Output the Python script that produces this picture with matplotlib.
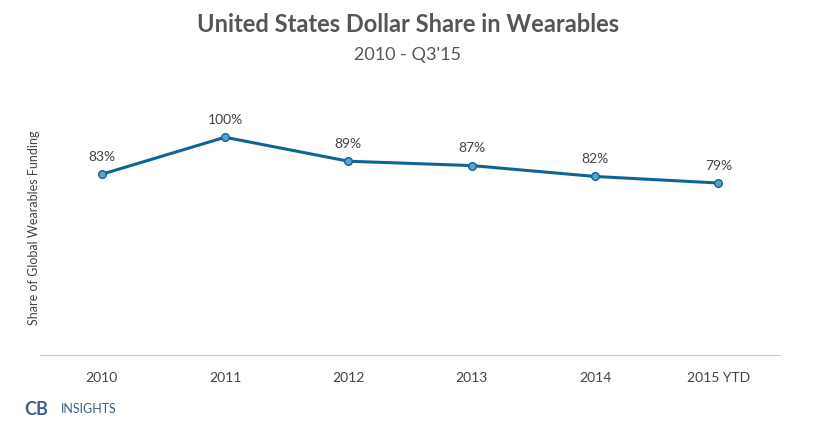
import matplotlib
matplotlib.use("Agg")
import matplotlib.pyplot as plt
import numpy as np

plt.rcParams["font.family"] = "Lato"

YEARS = ["2010", "2011", "2012", "2013", "2014", "2015 YTD"]
SHARE = [83, 100, 89, 87, 82, 79]
LINE_COLOR = "#0f6496"

fig = plt.figure(figsize=(8.16, 4.32), dpi=100)
ax = fig.add_axes([0.049, 0.178, 0.907, 0.59])

x = np.arange(len(YEARS))
ax.plot(x, SHARE, color=LINE_COLOR, lw=2.2, marker="o", ms=5.5,
        mfc="#5d9fd0", mec=LINE_COLOR, mew=1)
for xi, v in zip(x, SHARE):
    ax.annotate(f"{v}%", (xi, v), xytext=(0, 8), textcoords="offset points",
                ha="center", va="bottom", fontsize=10, color="#444444")

ax.set_xlim(-0.5, len(YEARS) - 0.5)
ax.set_ylim(0, 117)
ax.set_xticks(x)
ax.set_xticklabels(YEARS, fontsize=10, color="#444444")
ax.set_yticks([])
ax.tick_params(axis="x", length=0, pad=12)
for s in ["top", "right", "left"]:
    ax.spines[s].set_visible(False)
ax.spines["bottom"].set_color("#cccccc")
ax.set_ylabel("Share of Global Wearables Funding", fontsize=9, color="#444444", labelpad=0)

fig.text(0.5, 0.925, "United States Dollar Share in Wearables", ha="center",
         fontsize=17, fontweight="bold", color="#555555")
fig.text(0.5, 0.86, "2010 - Q3'15", ha="center", fontsize=13, color="#555555")

fig.text(0.03, 0.04, "CB", fontsize=13, fontweight="bold", color="#3a5f8a")
fig.text(0.075, 0.043, "INSIGHTS", fontsize=9, color="#3a5f8a")

fig.savefig("out.png", dpi=100)
